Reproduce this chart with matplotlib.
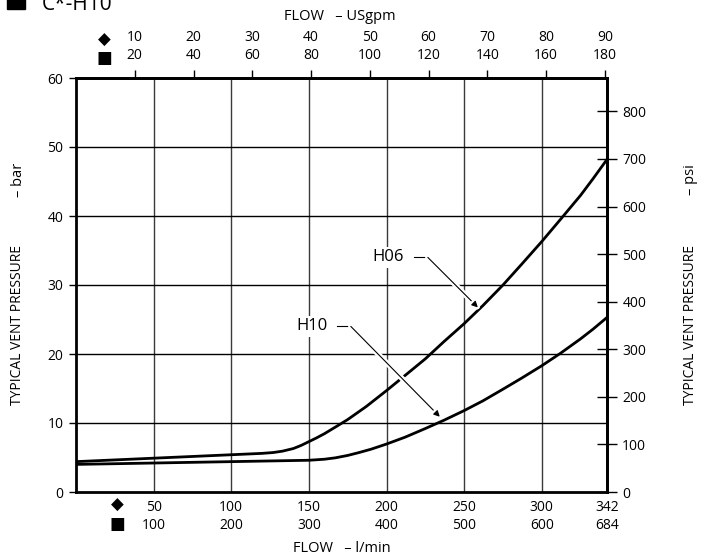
import matplotlib
matplotlib.use('Agg')
import matplotlib.pyplot as plt
import matplotlib.patheffects as pe
from matplotlib.patches import Rectangle

plt.rcParams['font.family'] = ['Open Sans', 'DejaVu Sans']

# flow in l/min, pressure in bar
flow_h06 = [0, 25, 50, 75, 100, 110, 120, 127, 133, 140, 145, 150, 155, 160, 167, 175,
            187, 200, 212, 225, 237, 250, 262, 275, 287, 300, 312, 325, 333, 342]
bar_h06 = [4.4, 4.65, 4.9, 5.15, 5.4, 5.5, 5.6, 5.72, 5.92, 6.3, 6.75, 7.3, 7.85, 8.45, 9.4, 10.5,
           12.4, 14.7, 16.9, 19.3, 21.8, 24.4, 27.0, 30.0, 33.0, 36.3, 39.5, 43.0, 45.4, 48.2]

flow_h10 = [0, 25, 50, 75, 100, 125, 150, 160, 167, 175, 182, 190, 200, 212, 225,
            237, 250, 262, 275, 287, 300, 312, 325, 333, 342]
bar_h10 = [4.0, 4.1, 4.2, 4.3, 4.4, 4.5, 4.6, 4.75, 4.95, 5.3, 5.7, 6.2, 6.95, 7.95, 9.2,
           10.4, 11.8, 13.2, 14.9, 16.5, 18.3, 20.1, 22.2, 23.6, 25.3]

# axis ticks
lpm_ticks = [50, 100, 150, 200, 250, 300, 342]
lpm_labels = ['50\n100', '100\n200', '150\n300', '200\n400', '250\n500', '300\n600', '342\n684']
gpm_ticks = [10, 20, 30, 40, 50, 60, 70, 80, 90]
gpm_labels = ['%d\n%d' % (g, 2 * g) for g in gpm_ticks]
bar_ticks = [0, 10, 20, 30, 40, 50, 60]
psi_ticks = [0, 100, 200, 300, 400, 500, 600, 700, 800]

LPM_PER_GPM = 3.78541
PSI_PER_BAR = 14.5038

fig = plt.figure(figsize=(7.11, 5.6), dpi=100)
ax = fig.add_axes([76 / 711, 1 - 492 / 560, 531 / 711, 414 / 560])

ax.set_xlim(0, 342)
ax.set_ylim(0, 60)

# grid
for x in [50, 100, 150, 200, 250, 300]:
    ax.axvline(x, color='#3a3a3a', lw=1.0, zorder=1)
for y in [10, 20, 30, 40, 50]:
    ax.axhline(y, color='black', lw=1.0, zorder=1)

ax.plot(flow_h06, bar_h06, color='black', lw=2.0, zorder=3, solid_joinstyle='round')
ax.plot(flow_h10, bar_h10, color='black', lw=2.0, zorder=3, solid_joinstyle='round')

for s in ax.spines.values():
    s.set_linewidth(2.0)
    s.set_zorder(5)

ax.set_xticks(lpm_ticks)
ax.set_xticklabels(lpm_labels, fontsize=10, linespacing=1.25)
ax.tick_params(axis='x', length=0, pad=6)
ax.set_yticks(bar_ticks)
ax.tick_params(axis='y', length=5, width=1, pad=4, labelsize=10)

# top axis USgpm
top = ax.secondary_xaxis('top', functions=(lambda x: x / LPM_PER_GPM, lambda g: g * LPM_PER_GPM))
top.set_xticks(gpm_ticks)
top.set_xticklabels(gpm_labels, fontsize=10, linespacing=1.25)
top.tick_params(axis='x', length=6, width=1, pad=5)
top.spines['top'].set_linewidth(2.0)

# right axis psi
right = ax.secondary_yaxis('right', functions=(lambda b: b * PSI_PER_BAR, lambda p: p / PSI_PER_BAR))
right.set_yticks(psi_ticks)
right.tick_params(axis='y', direction='inout', length=14, width=1, pad=4, labelsize=10)
right.spines['right'].set_linewidth(2.0)

# axis titles
fig.text(340 / 711, 1 - 16 / 560, 'FLOW   – USgpm', ha='center', va='center', fontsize=10.5)
fig.text(342 / 711, 1 - 549 / 560, 'FLOW   – l/min', ha='center', va='center', fontsize=10.5)
fig.text(18 / 711, 1 - 325 / 560, 'TYPICAL VENT PRESSURE', rotation=90, ha='center', va='center', fontsize=10)
fig.text(18 / 711, 1 - 180 / 560, '– bar', rotation=90, ha='center', va='center', fontsize=10.5)
fig.text(690 / 711, 1 - 325 / 560, 'TYPICAL VENT PRESSURE', rotation=90, ha='center', va='center', fontsize=10)
fig.text(690 / 711, 1 - 180 / 560, '– psi', rotation=90, ha='center', va='center', fontsize=10.5)

# series symbols next to tick rows
for (px, py, sym, fs) in [(104, 40, '◆', 12), (104, 58, '■', 12), (117, 505, '◆', 12), (117, 524, '■', 12)]:
    fig.text(px / 711, 1 - py / 560, sym, ha='center', va='center', fontsize=fs, family='DejaVu Sans')

# heading, cut by the top of the picture
fig.patches.append(Rectangle((7 / 711, 1 - 9 / 560), 18 / 711, 18 / 560,
                             transform=fig.transFigure, color='black', figure=fig))
fig.text(42 / 711, 1 - 10 / 560, 'C*-H10', ha='left', va='baseline', fontsize=15)

# curve labels with leaders
stroke = [pe.withStroke(linewidth=4, foreground='white')]
labels = [('H06', (200.8, 34.0), (218, 34.0), (226.6, 34.0), (259.5, 26.6)),
          ('H10', (152.3, 24.0), (168.4, 24.0), (177.0, 24.0), (235.0, 10.75))]
for name, tpos, start, knee, tip in labels:
    ax.text(tpos[0], tpos[1], name, ha='center', va='center', fontsize=12, zorder=6,
            bbox=dict(facecolor='white', edgecolor='none', pad=2))
    ax.plot([start[0], knee[0]], [start[1], knee[1]], color='black', lw=0.8, zorder=6,
            path_effects=stroke)
    ax.annotate('', xy=tip, xytext=knee, zorder=6,
                arrowprops=dict(arrowstyle='-|>', lw=0.8, color='black', mutation_scale=9,
                                shrinkA=0, shrinkB=1,
                                path_effects=stroke))

plt.savefig('out.png', dpi=100)
